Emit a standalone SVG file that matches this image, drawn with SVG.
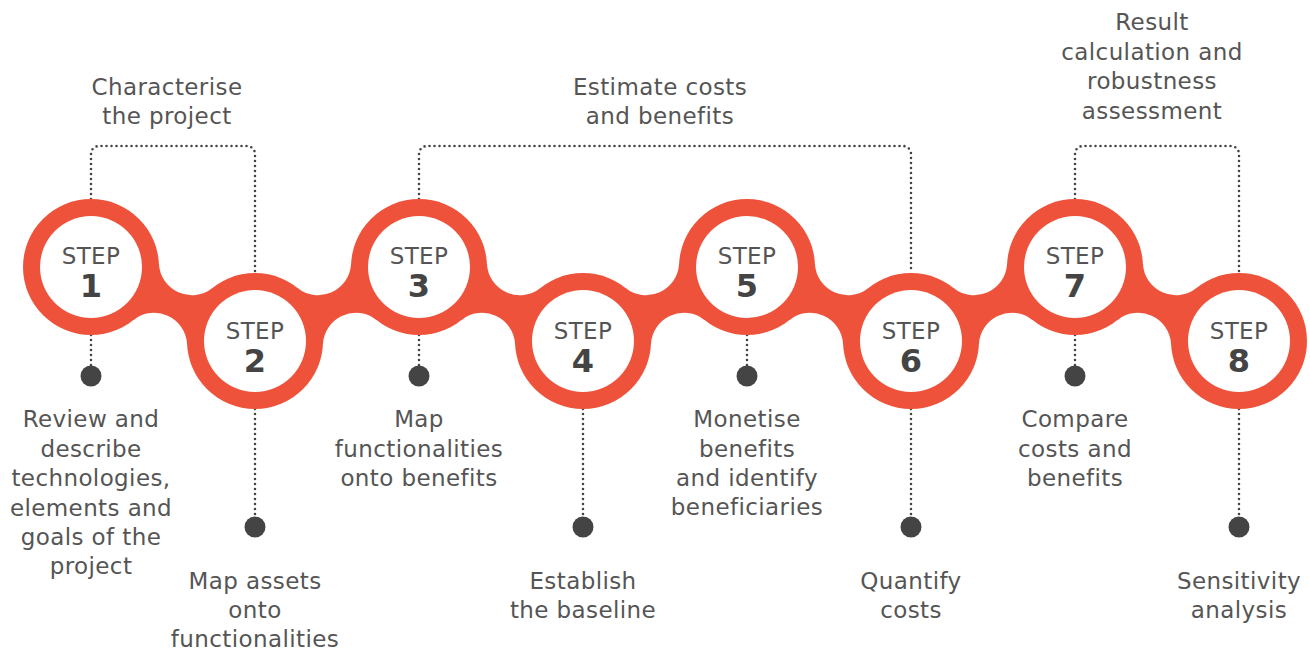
<svg xmlns="http://www.w3.org/2000/svg" width="1310" height="650" viewBox="0 0 1310 650">
<style>
.red{fill:#EF523A}
.hole{fill:#ffffff}
.dots{fill:none;stroke:#444;stroke-width:2.6;stroke-linecap:round;stroke-dasharray:0 5}
.dot{fill:#444}
.lbl{font-family:"DejaVu Sans",sans-serif;font-size:23px;fill:#555;text-anchor:middle;letter-spacing:0.4px}
.step{font-family:"DejaVu Sans",sans-serif;font-size:23px;fill:#555;text-anchor:middle;letter-spacing:0.4px}
.num{font-family:"DejaVu Sans",sans-serif;font-size:32px;font-weight:bold;fill:#444;text-anchor:middle}
</style>
<defs>
<path id="band" d="M0,0 L67.93,-3.27 A33,33 0 0 0 121.52,20.91 L164,74 L96.07,77.27 A33,33 0 0 0 42.48,53.09 Z"/>
</defs>
<rect width="1310" height="650" fill="#ffffff"/>
<g id="connectors">
<g class="red">
<use href="#band" transform="translate(91,267)"/>
<use href="#band" transform="translate(419,267) scale(-1,1)"/>
<use href="#band" transform="translate(419,267)"/>
<use href="#band" transform="translate(747,267) scale(-1,1)"/>
<use href="#band" transform="translate(747,267)"/>
<use href="#band" transform="translate(1075,267) scale(-1,1)"/>
<use href="#band" transform="translate(1075,267)"/>
</g>
<path class="dots" d="M91,199 V154 A8,8 0 0 1 99,146 H247 A8,8 0 0 1 255,154 V273"/>
<path class="dots" d="M419,199 V154 A8,8 0 0 1 427,146 H903 A8,8 0 0 1 911,154 V273"/>
<path class="dots" d="M1075,199 V154 A8,8 0 0 1 1083,146 H1231 A8,8 0 0 1 1239,154 V273"/>
<path class="dots" d="M91,335 V376"/>
<path class="dots" d="M419,335 V376"/>
<path class="dots" d="M747,335 V376"/>
<path class="dots" d="M1075,335 V376"/>
<path class="dots" d="M255,409 V527"/>
<path class="dots" d="M583,409 V527"/>
<path class="dots" d="M911,409 V527"/>
<path class="dots" d="M1239,409 V527"/>
</g>
<g id="label-top-1"><text class="lbl" x="167" y="95">Characterise</text><text class="lbl" x="167" y="124">the project</text></g>
<g id="label-top-2"><text class="lbl" x="660" y="95">Estimate costs</text><text class="lbl" x="660" y="124">and benefits</text></g>
<g id="label-top-3"><text class="lbl" x="1152" y="30">Result</text><text class="lbl" x="1152" y="60">calculation and</text><text class="lbl" x="1152" y="89">robustness</text><text class="lbl" x="1152" y="119">assessment</text></g>

<g id="step1">
<circle class="red" cx="91" cy="267" r="68"/><circle class="hole" cx="91" cy="267" r="51"/>
<text class="step" x="91" y="264">STEP</text><text class="num" x="91" y="297">1</text>
<circle class="dot" cx="91" cy="376" r="10.5"/>
<text class="lbl" x="91" y="427">Review and</text><text class="lbl" x="91" y="457">describe</text><text class="lbl" x="91" y="486">technologies,</text><text class="lbl" x="91" y="516">elements and</text><text class="lbl" x="91" y="545">goals of the</text><text class="lbl" x="91" y="574">project</text>
</g>
<g id="step2">
<circle class="red" cx="255" cy="341" r="68"/><circle class="hole" cx="255" cy="341" r="51"/>
<text class="step" x="255" y="339">STEP</text><text class="num" x="255" y="372">2</text>
<circle class="dot" cx="255" cy="527" r="10.5"/>
<text class="lbl" x="255" y="589">Map assets</text><text class="lbl" x="255" y="618">onto</text><text class="lbl" x="255" y="647">functionalities</text>
</g>
<g id="step3">
<circle class="red" cx="419" cy="267" r="68"/><circle class="hole" cx="419" cy="267" r="51"/>
<text class="step" x="419" y="264">STEP</text><text class="num" x="419" y="297">3</text>
<circle class="dot" cx="419" cy="376" r="10.5"/>
<text class="lbl" x="419" y="427">Map</text><text class="lbl" x="419" y="457">functionalities</text><text class="lbl" x="419" y="486">onto benefits</text>
</g>
<g id="step4">
<circle class="red" cx="583" cy="341" r="68"/><circle class="hole" cx="583" cy="341" r="51"/>
<text class="step" x="583" y="339">STEP</text><text class="num" x="583" y="372">4</text>
<circle class="dot" cx="583" cy="527" r="10.5"/>
<text class="lbl" x="583" y="589">Establish</text><text class="lbl" x="583" y="618">the baseline</text>
</g>
<g id="step5">
<circle class="red" cx="747" cy="267" r="68"/><circle class="hole" cx="747" cy="267" r="51"/>
<text class="step" x="747" y="264">STEP</text><text class="num" x="747" y="297">5</text>
<circle class="dot" cx="747" cy="376" r="10.5"/>
<text class="lbl" x="747" y="427">Monetise</text><text class="lbl" x="747" y="457">benefits</text><text class="lbl" x="747" y="486">and identify</text><text class="lbl" x="747" y="515">beneficiaries</text>
</g>
<g id="step6">
<circle class="red" cx="911" cy="341" r="68"/><circle class="hole" cx="911" cy="341" r="51"/>
<text class="step" x="911" y="339">STEP</text><text class="num" x="911" y="372">6</text>
<circle class="dot" cx="911" cy="527" r="10.5"/>
<text class="lbl" x="911" y="589">Quantify</text><text class="lbl" x="911" y="618">costs</text>
</g>
<g id="step7">
<circle class="red" cx="1075" cy="267" r="68"/><circle class="hole" cx="1075" cy="267" r="51"/>
<text class="step" x="1075" y="264">STEP</text><text class="num" x="1075" y="297">7</text>
<circle class="dot" cx="1075" cy="376" r="10.5"/>
<text class="lbl" x="1075" y="427">Compare</text><text class="lbl" x="1075" y="457">costs and</text><text class="lbl" x="1075" y="486">benefits</text>
</g>
<g id="step8">
<circle class="red" cx="1239" cy="341" r="68"/><circle class="hole" cx="1239" cy="341" r="51"/>
<text class="step" x="1239" y="339">STEP</text><text class="num" x="1239" y="372">8</text>
<circle class="dot" cx="1239" cy="527" r="10.5"/>
<text class="lbl" x="1239" y="589">Sensitivity</text><text class="lbl" x="1239" y="618">analysis</text>
</g>
</svg>
